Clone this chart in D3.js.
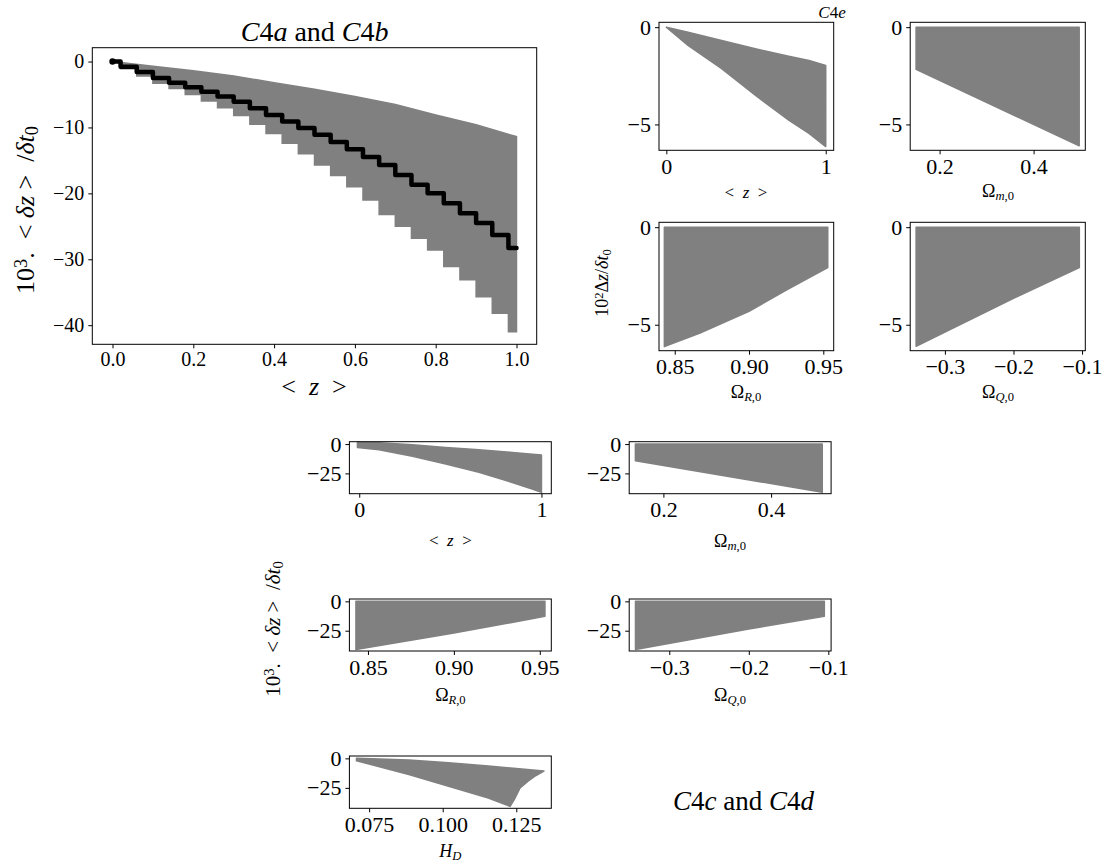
<!DOCTYPE html>
<html>
<head>
<meta charset="utf-8">
<script src="https://cdnjs.cloudflare.com/ajax/libs/d3/7.8.5/d3.min.js"></script>
<style>
  body { margin: 0; background: #fff; }
  svg { display: block; }
</style>
</head>
<body>
<div id="chart"></div>
<script>
const W = 1107, H = 863;
const FONT = "'Liberation Serif', 'DejaVu Serif', serif";
const GRAY = "#808080";
const SP = "\u00a0";

// ---- C4a and C4b : 10^3 <dz>/dt0 against <z> ----
const zBins = [0.00, 0.04, 0.08, 0.12, 0.16, 0.20, 0.24, 0.28, 0.32, 0.36, 0.40, 0.44, 0.48,
  0.52, 0.56, 0.60, 0.64, 0.68, 0.72, 0.76, 0.80, 0.84, 0.88, 0.92, 0.96, 1.00];
const lowerAB = [0, -1.1, -2.2, -3.3, -4.1, -5.0, -6.0, -7.0, -8.2, -9.5, -10.9, -12.4, -14.0,
  -15.7, -17.3, -19.0, -21.0, -23.2, -25.0, -26.8, -28.6, -31.1, -33.1, -35.7, -38.2, -41.0];
const bestAB = [0, -0.8, -1.6, -2.5, -3.2, -3.9, -4.6, -5.3, -6.1, -7.1, -8.1, -9.1, -10.1,
  -11.1, -12.2, -13.3, -14.5, -15.7, -17.2, -18.7, -20.0, -21.5, -23.0, -24.5, -26.3, -28.3];
const zUpper = [0, 0.1, 0.2, 0.3, 0.4, 0.5, 0.6, 0.7, 0.8, 0.9, 1.0];
const upperAB = [0, -0.7, -1.4, -2.2, -3.2, -4.2, -5.3, -6.5, -8.1, -9.6, -11.4];

// ---- C4e : 10^2 Dz/dt0 ----
const zE = [0, 0.136, 0.347, 0.558, 0.768, 0.895, 1.0];
const upperE = [0, -0.26, -0.69, -1.11, -1.49, -1.71, -1.97];
const lowerE = [0, -0.94, -2.13, -3.50, -4.78, -5.46, -6.14];
const omME = [0.150, 0.497];
const omMELow = [-2.17, -6.10];
const omRE = [0.843, 0.867, 0.900, 0.926, 0.953];
const omRELow = [-6.12, -5.43, -4.31, -3.19, -2.07];
const omQE = [-0.342, -0.200, -0.104];
const omQELow = [-6.10, -3.65, -2.07];

// ---- C4c and C4d : 10^3 <dz>/dt0 ----
const zCDUp = [-0.01, 0.109, 0.292, 0.475, 0.657, 0.84, 1.0];
const upperCD = [1.4, 1.2, -0.6, -2.9, -4.8, -7.1, -9.4];
const zCDLow = [-0.01, 0.109, 0.292, 0.475, 0.657, 0.84, 0.949, 1.0];
const lowerCD = [-2.9, -4.8, -10.5, -17.0, -24.1, -32.7, -38.3, -41.2];
const omMCD = [0.148, 0.495];
const omMCDLow = [-14.2, -41.0];
const omRCD = [0.843, 0.900, 0.953];
const omRCDLow = [-41.0, -27.0, -12.8];
const omQCD = [-0.3425, -0.200, -0.105];
const omQCDLow = [-41.0, -23.6, -12.8];
const hDUp = [0.0707, 0.0885, 0.102, 0.1155, 0.1344];
const hDUpper = [0, -1.4, -3.7, -6.5, -10.8];
const hDLow = [0.0707, 0.0885, 0.102, 0.1155, 0.1229, 0.1243, 0.1263, 0.129, 0.1317, 0.1344];
const hDLower = [-2.0, -13.7, -23.6, -33.6, -40.7, -35.0, -25.0, -19.4, -14.5, -10.8];

const svg = d3.select("#chart").append("svg")
  .attr("width", W).attr("height", H)
  .attr("font-family", FONT);

function makePanel(box, xDom, yDom, xTicks, yTicks, xFmt, fs) {
  const x = d3.scaleLinear().domain(xDom).range([box.l, box.r]);
  const y = d3.scaleLinear().domain(yDom).range([box.b, box.t]);
  const g = svg.append("g");
  const marks = g.append("g");

  g.append("g")
    .attr("transform", `translate(0,${box.b})`)
    .call(d3.axisBottom(x).tickValues(xTicks).tickFormat(d3.format(xFmt)).tickSize(4).tickPadding(4))
    .call(a => a.select(".domain").remove())
    .attr("font-family", FONT).attr("font-size", fs);

  g.append("g")
    .attr("transform", `translate(${box.l},0)`)
    .call(d3.axisLeft(y).tickValues(yTicks).tickFormat(d3.format("d")).tickSize(4).tickPadding(4))
    .call(a => a.select(".domain").remove())
    .attr("font-family", FONT).attr("font-size", fs);

  g.append("rect")
    .attr("x", box.l).attr("y", box.t)
    .attr("width", box.r - box.l).attr("height", box.b - box.t)
    .attr("fill", "none").attr("stroke", "#000").attr("stroke-width", 1);

  return { x, y, marks };
}

// shape between an upper edge and a lower edge, both given left to right
function band(p, xu, yu, xl, yl) {
  const up = xu.map((v, i) => [p.x(v), p.y(yu[i])]);
  const lo = xl.map((v, i) => [p.x(v), p.y(yl[i])]).reverse();
  p.marks.append("path")
    .attr("d", d3.line()(up.concat(lo)) + "Z")
    .attr("fill", GRAY).attr("stroke", GRAY)
    .attr("stroke-width", 1.5).attr("stroke-linejoin", "round");
}

// text with italic / sub / sup parts
function mathText(x, y, size, parts, rotate) {
  const t = svg.append("text")
    .attr("transform", `translate(${x},${y})` + (rotate ? " rotate(-90)" : ""))
    .attr("text-anchor", "middle")
    .attr("font-size", size);
  parts.forEach(([s, k]) => {
    const ts = t.append("tspan").text(s);
    if (k && k.includes("i")) ts.attr("font-style", "italic");
    if (k && k.includes("sub")) ts.attr("baseline-shift", "-22%").attr("font-size", size * 0.7);
    if (k && k.includes("sup")) ts.attr("baseline-shift", "38%").attr("font-size", size * 0.7);
  });
  return t;
}

const zLabel = [["<" + SP + SP], ["z", "i"], [SP + SP + ">"]];
const yLabel3 = [["10"], ["3", "sup"], [". " + SP + "<" + SP], ["δz", "i"], [SP + ">" + SP + SP + "/"], ["δt", "i"], ["0", "sub"]];

// ---------- main panel ----------
const main = makePanel({ l: 92.3, r: 536.7, t: 47.7, b: 344.3 },
  [-0.05, 1.05], [-42.9, 2.1], [0, 0.2, 0.4, 0.6, 0.8, 1.0], [0, -10, -20, -30, -40], ".1f", 20);

const upPts = zUpper.map((z, i) => [main.x(z), main.y(upperAB[i])]);
const loPts = zBins.map((z, i) => [main.x(z), main.y(lowerAB[i])]).reverse();
const upStr = d3.line()(upPts);
const loStr = d3.line().curve(d3.curveStep)(loPts);
main.marks.append("path")
  .attr("d", upStr + "L" + loStr.slice(1) + "Z")
  .attr("fill", GRAY).attr("stroke", GRAY).attr("stroke-width", 1.5);

main.marks.append("path")
  .attr("d", d3.line().curve(d3.curveStep)(zBins.map((z, i) => [main.x(z), main.y(bestAB[i])])))
  .attr("fill", "none").attr("stroke", "#000")
  .attr("stroke-width", 4.5).attr("stroke-linejoin", "round").attr("stroke-linecap", "round");

main.marks.append("circle")
  .attr("cx", main.x(zBins[0])).attr("cy", main.y(bestAB[0])).attr("r", 3.2).attr("fill", "#000");

mathText(314.6, 41, 28, [["C", "i"], ["4"], ["a", "i"], [" and "], ["C", "i"], ["4"], ["b", "i"]]);
mathText(314, 395, 26, zLabel);
mathText(34, 210, 26, yLabel3, true);

// ---------- C4e panels ----------
const yE = [-6.33, 0.25];
const e1 = makePanel({ l: 659, r: 833.7, t: 22.3, b: 150.3 }, [-0.046, 1.05], yE, [0, 1], [0, -5], "d", 22);
band(e1, zE, upperE, zE, lowerE);
const e2 = makePanel({ l: 910.2, r: 1085.3, t: 22.3, b: 150.3 }, [0.1375, 0.51], yE, [0.2, 0.4], [0, -5], ".1f", 22);
band(e2, omME, omME.map(() => 0), omME, omMELow);
const e3 = makePanel({ l: 659, r: 833.7, t: 222.3, b: 350.7 }, [0.8394, 0.957], yE, [0.85, 0.90, 0.95], [0, -5], ".2f", 22);
band(e3, omRE, omRE.map(() => 0), omRE, omRELow);
const e4 = makePanel({ l: 910.2, r: 1085.3, t: 222.3, b: 350.7 }, [-0.3506, -0.0953], yE, [-0.3, -0.2, -0.1], [0, -5], ".1f", 22);
band(e4, omQE, omQE.map(() => 0), omQE, omQELow);

mathText(832, 18, 17, [["C", "i"], ["4"], ["e", "i"]]);
mathText(608, 283, 18, [["10"], ["2", "sup"], ["Δ"], ["z", "i"], ["/"], ["δt", "i"], ["0", "sub"]], true);
mathText(746, 198, 17, zLabel);
mathText(998, 197, 18, [["Ω"], ["m", "i sub"], [",0", "sub"]]);
mathText(746, 398, 18, [["Ω"], ["R", "i sub"], [",0", "sub"]]);
mathText(998, 398, 18, [["Ω"], ["Q", "i sub"], [",0", "sub"]]);

// ---------- C4c and C4d panels ----------
const yCD = [-42.3, 2.0];
const c1 = makePanel({ l: 349.4, r: 551.3, t: 441.7, b: 493.7 }, [-0.054, 1.054], yCD, [0, 1], [0, -25], "d", 22);
band(c1, zCDUp, upperCD, zCDLow, lowerCD);
const c2 = makePanel({ l: 629.2, r: 831.1, t: 441.7, b: 493.7 }, [0.1365, 0.5114], yCD, [0.2, 0.4], [0, -25], ".1f", 22);
band(c2, omMCD, omMCD.map(() => 0), omMCD, omMCDLow);
const c3 = makePanel({ l: 349.4, r: 551.3, t: 599, b: 651 }, [0.8392, 0.9567], yCD, [0.85, 0.90, 0.95], [0, -25], ".2f", 22);
band(c3, omRCD, omRCD.map(() => 0), omRCD, omRCDLow);
const c4 = makePanel({ l: 629.2, r: 831.1, t: 599, b: 651 }, [-0.3504, -0.0965], yCD, [-0.3, -0.2, -0.1], [0, -25], ".1f", 22);
band(c4, omQCD, omQCD.map(() => 0), omQCD, omQCDLow);
const c5 = makePanel({ l: 349.4, r: 551.3, t: 756, b: 808.3 }, [0.0683, 0.1369], yCD, [0.075, 0.100, 0.125], [0, -25], ".3f", 22);
band(c5, hDUp, hDUpper, hDLow, hDLower);

mathText(280, 629, 21, yLabel3, true);
mathText(450.4, 546, 17, zLabel);
mathText(730, 547, 18, [["Ω"], ["m", "i sub"], [",0", "sub"]]);
mathText(450.4, 701, 18, [["Ω"], ["R", "i sub"], [",0", "sub"]]);
mathText(730, 701, 18, [["Ω"], ["Q", "i sub"], [",0", "sub"]]);
mathText(450.4, 857, 18, [["H", "i"], ["D", "i sub"]]);
mathText(743.6, 810, 27, [["C", "i"], ["4"], ["c", "i"], [" and "], ["C", "i"], ["4"], ["d", "i"]]);
</script>
</body>
</html>
